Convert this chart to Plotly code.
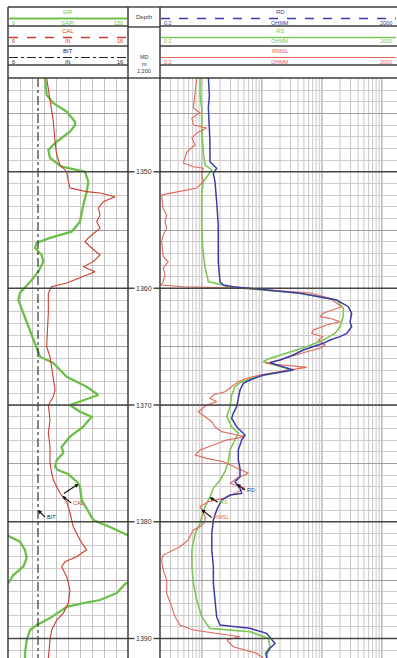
import numpy as np
import plotly.graph_objects as go

# ---------------------------------------------------------------------------
# Log data: (measured depth [m], value) pairs
# ---------------------------------------------------------------------------
GR_LOG = [  # gamma ray, GAPI
    (1341.97, 46.3), (1343.43, 48.4), (1344.11, 56.3), (1344.86, 73.4), (1345.71, 83.8),
    (1346.00, 83.8), (1346.57, 77.5), (1347.43, 60.9), (1348.14, 50.4), (1348.83, 52.5),
    (1349.57, 67.1), (1350.00, 96.3), (1350.86, 100.4), (1351.71, 98.4), (1352.85, 94.1),
    (1354.29, 90.0), (1355.14, 79.6), (1355.68, 52.5), (1356.11, 35.9), (1356.54, 33.8),
    (1357.14, 42.1), (1357.71, 44.1), (1358.57, 37.9), (1359.28, 29.6), (1360.40, 15.0),
    (1361.00, 12.9), (1362.11, 19.1), (1363.57, 27.5), (1365.00, 35.9), (1365.86, 40.0),
    (1366.40, 56.6), (1367.57, 73.4), (1368.43, 98.4), (1369.14, 112.9), (1370.00, 77.5),
    (1370.57, 90.0), (1371.00, 104.6), (1371.86, 94.1), (1372.71, 77.5), (1373.57, 67.1),
    (1374.11, 69.1), (1374.71, 60.9), (1375.28, 58.8), (1375.57, 62.5), (1375.91, 75.0),
    (1376.68, 87.5), (1377.03, 90.0), (1378.14, 92.1), (1379.85, 106.6), (1380.45, 127.5),
    (1381.14, 149.0), (1381.71, 165.0), (1382.43, 171.3), (1383.11, 173.4), (1383.86, 169.1),
    (1384.57, 156.6), (1385.20, 151.0), (1385.30, 147.0), (1386.11, 135.9), (1386.71, 115.0),
    (1386.97, 94.1), (1387.29, 73.4), (1388.26, 52.5), (1388.85, 35.9), (1389.28, 27.5),
    (1390.14, 23.4), (1391.25, 21.3), (1391.70, 21.3),
]

CAL_LOG = [  # caliper, inches
    (1341.97, 9.22), (1342.83, 9.36), (1344.00, 9.50), (1345.71, 9.78), (1347.43, 9.92),
    (1348.57, 10.06), (1349.43, 10.33), (1350.00, 10.89), (1350.86, 11.03), (1351.40, 11.17),
    (1351.71, 12.56), (1351.83, 13.67), (1352.14, 14.92), (1352.57, 13.94), (1353.11, 13.53),
    (1353.71, 13.67), (1354.29, 13.39), (1354.83, 13.67), (1355.68, 12.69), (1356.00, 12.42),
    (1356.54, 12.97), (1357.14, 13.67), (1357.71, 13.11), (1358.14, 12.28), (1358.57, 13.25),
    (1359.28, 11.44), (1359.54, 10.89), (1359.86, 9.64), (1360.40, 9.36), (1362.11, 9.36),
    (1365.00, 9.22), (1365.86, 9.50), (1366.71, 9.64), (1367.57, 9.78), (1368.71, 9.92),
    (1369.28, 9.78), (1370.00, 9.36), (1371.28, 9.50), (1372.40, 9.36), (1373.57, 9.50),
    (1374.97, 9.50), (1375.83, 9.64), (1376.43, 9.78), (1377.54, 10.33), (1378.29, 10.89),
    (1379.25, 11.17), (1380.43, 11.44), (1381.57, 12.00), (1382.43, 12.56), (1382.68, 12.14),
    (1383.00, 11.72), (1383.43, 10.75), (1383.86, 10.47), (1384.71, 10.89), (1385.85, 11.17),
    (1386.97, 11.03), (1387.83, 10.61), (1388.43, 10.06), (1389.28, 9.64), (1390.14, 9.50),
    (1391.70, 9.36),
]

BIT_SIZE = 8.5  # inches

RD_LOG = [  # deep resistivity, ohm.m
    (1341.97, 1.28), (1343.43, 1.33), (1344.54, 1.28), (1346.00, 1.33), (1347.43, 1.36),
    (1349.14, 1.36), (1349.71, 1.76), (1350.14, 1.55), (1350.86, 1.65), (1352.57, 1.76),
    (1354.57, 1.87), (1356.00, 1.87), (1357.71, 1.87), (1359.43, 2.00), (1359.71, 2.27),
    (1359.86, 3.33), (1360.42, 43.1), (1361.00, 176), (1361.57, 275), (1362.14, 313),
    (1362.86, 294), (1363.29, 313), (1363.86, 259), (1364.14, 200), (1364.43, 136),
    (1364.71, 105), (1365.00, 71.8), (1365.28, 48.9), (1365.71, 33.3), (1366.14, 20.0),
    (1366.37, 13.6), (1366.71, 22.7), (1367.00, 33.3), (1367.14, 22.7), (1367.43, 10.5),
    (1367.85, 6.32), (1368.14, 4.89), (1368.71, 4.31), (1369.57, 4.04), (1370.14, 3.79),
    (1370.71, 3.33), (1371.14, 3.13), (1371.86, 3.79), (1372.28, 4.60), (1372.57, 5.22),
    (1373.00, 4.60), (1373.85, 4.04), (1374.71, 4.04), (1375.42, 4.31), (1376.14, 4.31),
    (1376.57, 3.56), (1377.14, 4.31), (1377.57, 4.60), (1377.71, 2.94), (1378.14, 2.13),
    (1379.00, 1.76), (1379.85, 1.55), (1381.00, 1.46), (1382.43, 1.46), (1383.86, 1.55),
    (1385.28, 1.55), (1386.71, 1.65), (1388.14, 1.76), (1388.85, 2.00), (1389.14, 6.32),
    (1389.57, 12.0), (1390.43, 16.5), (1390.85, 13.6), (1391.28, 12.0), (1391.70, 12.0),
]

RS_LOG = [  # shallow resistivity, ohm.m
    (1341.97, 0.93), (1343.43, 0.93), (1344.54, 0.99), (1346.26, 0.99), (1348.29, 1.05),
    (1349.43, 1.13), (1349.85, 1.46), (1350.28, 1.28), (1350.86, 1.05), (1352.00, 0.99),
    (1354.57, 0.99), (1356.54, 1.03), (1358.25, 1.13), (1359.43, 1.28), (1359.71, 2.27),
    (1359.86, 2.59), (1360.42, 43.1), (1361.00, 176), (1361.71, 227), (1362.43, 227),
    (1363.29, 200), (1363.86, 165), (1364.43, 105), (1365.00, 55.7), (1365.57, 25.9),
    (1366.00, 13.6), (1366.28, 10.5), (1366.57, 16.5), (1366.94, 29.4), (1367.23, 17.6),
    (1367.57, 8.18), (1368.00, 4.60), (1368.43, 3.56), (1369.14, 3.13), (1370.14, 2.94),
    (1371.00, 2.59), (1371.86, 3.13), (1372.42, 4.04), (1373.00, 3.56), (1373.85, 2.94),
    (1374.86, 2.75), (1375.71, 2.42), (1376.43, 2.00), (1377.14, 1.55), (1377.86, 1.36),
    (1378.71, 1.13), (1379.28, 1.05), (1379.57, 0.99), (1380.14, 0.93), (1381.00, 0.77),
    (1382.43, 0.68), (1383.86, 0.68), (1385.28, 0.72), (1386.71, 0.82), (1388.14, 0.99),
    (1389.14, 1.36), (1389.43, 6.32), (1390.00, 12.8), (1390.71, 13.6), (1391.28, 11.3),
    (1391.70, 12.0),
]

RMSL_LOG = [  # micro-spherically focused resistivity, ohm.m
    (1341.97, 0.82), (1343.43, 0.77), (1344.54, 0.72), (1344.97, 0.93), (1345.40, 0.68),
    (1346.00, 0.72), (1346.26, 1.20), (1346.68, 0.82), (1347.11, 0.68), (1347.71, 0.77),
    (1348.29, 0.56), (1349.25, 0.49), (1349.57, 0.72), (1349.71, 1.05), (1350.28, 0.99),
    (1350.86, 1.05), (1351.40, 0.82), (1351.86, 0.29), (1352.00, 0.213), (1353.11, 0.224),
    (1353.71, 0.259), (1354.29, 0.242), (1354.83, 0.259), (1355.43, 0.226), (1356.00, 0.213),
    (1357.29, 0.226), (1357.71, 0.275), (1358.25, 0.226), (1358.85, 0.242), (1359.43, 0.226),
    (1359.71, 0.21), (1359.86, 0.49), (1360.00, 6.32), (1360.40, 63.2), (1360.85, 136),
    (1361.28, 176), (1361.57, 213), (1362.14, 105), (1362.43, 92.8), (1362.57, 136),
    (1362.86, 200), (1363.14, 120), (1363.57, 71.8), (1363.86, 67.5), (1364.14, 105),
    (1364.43, 86.9), (1364.85, 112.5), (1365.14, 92.8), (1365.43, 55.7), (1365.86, 29.4),
    (1366.14, 20.0), (1366.42, 11.3), (1366.57, 22.7), (1366.77, 55.7), (1366.94, 33.3),
    (1367.14, 20.0), (1367.43, 9.28), (1367.71, 5.57), (1368.00, 4.04), (1368.43, 3.13),
    (1368.86, 2.42), (1369.14, 1.55), (1369.42, 1.36), (1369.71, 1.76), (1370.00, 1.20),
    (1370.57, 0.87), (1371.00, 1.13), (1371.43, 1.46), (1371.86, 1.65), (1372.28, 2.13),
    (1372.57, 3.79), (1372.71, 5.22), (1373.00, 2.59), (1373.43, 1.55), (1373.85, 0.93),
    (1374.28, 0.77), (1374.57, 1.20), (1374.86, 2.27), (1375.28, 3.33), (1375.57, 4.31),
    (1375.85, 5.93), (1376.28, 3.79), (1376.71, 2.94), (1377.14, 5.22), (1377.57, 3.56),
    (1378.00, 2.27), (1378.29, 1.28), (1378.71, 0.93), (1379.57, 1.13), (1380.00, 1.13),
    (1380.43, 0.93), (1380.71, 0.72), (1381.57, 0.59), (1382.14, 0.43), (1382.86, 0.226),
    (1383.28, 0.213), (1384.14, 0.226), (1385.00, 0.259), (1386.14, 0.259), (1387.29, 0.313),
    (1388.14, 0.356), (1388.85, 0.43), (1389.28, 0.72), (1389.86, 4.31), (1390.14, 2.59),
    (1390.71, 3.33), (1391.28, 8.18), (1391.70, 10.5),
]

DEPTH_MARKS = [1350, 1360, 1370, 1380, 1390]

# ---------------------------------------------------------------------------
# Page geometry (pixels)
# ---------------------------------------------------------------------------
W, H = 397, 658
LX0, LX1 = 8, 128          # left track (GR / CAL / BIT)
RX0 = 160                  # resistivity track starts here, runs past right edge
PLOT_TOP = 78              # top of the log body
HDR_TOP = 7
DECADE_PX = 60             # log-scale decade width
DEPTH_TOP, DEPTH_BOT = 1341.97, 1391.68

GR_MIN, GR_MAX = 0, 150
CAL_MIN, CAL_MAX = 6, 16
RES_MIN = 0.2

C_GR, C_CAL, C_BIT = "#6cbf48", "#cf3b2c", "#222222"
C_RD, C_RS, C_RMSL = "#3a3fa6", "#7cc755", "#e2685b"
C_BORDER = "#3d3d3d"
FONT = "Liberation Sans, Arial, sans-serif"


def fx(p):
    return p / W


def fy(p):
    return 1 - p / H


def unzip(pairs):
    d, v = zip(*pairs)
    return np.array(d), np.array(v)


gr_d, gr_v = unzip(GR_LOG)
cal_d, cal_v = unzip(CAL_LOG)
rd_d, rd_v = unzip(RD_LOG)
rs_d, rs_v = unzip(RS_LOG)
rm_d, rm_v = unzip(RMSL_LOG)

fig = go.Figure()

# GR on main scale, plus the wrapped backup scale (150-300) for readings off the track
fig.add_trace(go.Scatter(x=gr_v, y=gr_d, xaxis="x", yaxis="y", mode="lines",
                         line=dict(color=C_GR, width=2.3), name="GR"))
fig.add_trace(go.Scatter(x=gr_v - (GR_MAX - GR_MIN), y=gr_d, xaxis="x", yaxis="y",
                         mode="lines", line=dict(color=C_GR, width=2.3), name="GR backup"))
# CAL and BIT share an overlaid inch scale
fig.add_trace(go.Scatter(x=cal_v, y=cal_d, xaxis="x3", yaxis="y", mode="lines",
                         line=dict(color=C_CAL, width=1.1), name="CAL"))
fig.add_trace(go.Scatter(x=[BIT_SIZE, BIT_SIZE], y=[DEPTH_TOP, DEPTH_BOT], xaxis="x3",
                         yaxis="y", mode="lines",
                         line=dict(color=C_BIT, width=1.1, dash="dashdot"), name="BIT"))
# Resistivities on the log track
fig.add_trace(go.Scatter(x=rs_v, y=rs_d, xaxis="x2", yaxis="y2", mode="lines",
                         line=dict(color=C_RS, width=1.6), name="RS"))
fig.add_trace(go.Scatter(x=rm_v, y=rm_d, xaxis="x2", yaxis="y2", mode="lines",
                         line=dict(color=C_RMSL, width=1.1), name="RMSL"))
fig.add_trace(go.Scatter(x=rd_v, y=rd_d, xaxis="x2", yaxis="y2", mode="lines",
                         line=dict(color=C_RD, width=1.5), name="RD"))

shapes, annotations = [], []


def line(x0, y0, x1, y1, color=C_BORDER, width=1.4, dash="solid", xref="paper",
         yref="paper", layer="above"):
    shapes.append(dict(type="line", xref=xref, yref=yref, x0=x0, y0=y0, x1=x1, y1=y1,
                       layer=layer, line=dict(color=color, width=width, dash=dash)))


def label(x, y, s, color="#333333", size=6, xanchor="center"):
    annotations.append(dict(xref="paper", yref="paper", x=fx(x), y=fy(y), text=s,
                            showarrow=False, xanchor=xanchor, yanchor="middle",
                            font=dict(family=FONT, size=size, color=color)))


# Logarithmic grid of the resistivity track
log_lo = np.log10(RES_MIN)
log_hi = log_lo + (W - RX0) / DECADE_PX
for dec in range(-1, 4):
    for k in range(1, 10):
        v = k * 10.0 ** dec
        if log_lo < np.log10(v) < log_hi:
            major = k == 1
            line(v, 0, v, fy(PLOT_TOP), xref="x2", yref="paper", layer="below",
                 color="#969696" if major else "#c8c8c8", width=1)

# Heavy 10 m depth lines running across all tracks
for d in DEPTH_MARKS:
    line(fx(LX0), d, 1, d, xref="paper", yref="y", color="#474747", width=1.5)
    annotations.append(dict(xref="paper", yref="y", x=fx((LX1 + RX0) / 2), y=d,
                            text=str(d), showarrow=False, bgcolor="white", borderpad=1,
                            font=dict(family=FONT, size=7, color="#333333")))

# Track borders
for xb in (LX0, LX1, RX0):
    line(fx(xb), fy(HDR_TOP), fx(xb), 0, width=1.5)

# Header boxes
rows = [HDR_TOP, 26, 46, 65, PLOT_TOP]
for yb in rows:
    line(fx(LX0), fy(yb), fx(LX1), fy(yb))
    line(fx(RX0), fy(yb), 1, fy(yb))
for yb in (HDR_TOP, 27, PLOT_TOP):
    line(fx(LX1), fy(yb), fx(RX0), fy(yb))

left_hdr = [("GR", "GAPI", str(GR_MIN), str(GR_MAX), C_GR, "solid", 2.2),
            ("CAL", "IN", str(CAL_MIN), str(CAL_MAX), C_CAL, "dash", 1.6),
            ("BIT", "IN", str(CAL_MIN), str(CAL_MAX), C_BIT, "dashdot", 1.2)]
right_hdr = [("RD", "OHMM", "0.2", "2000", C_RD, "dash", 1.3),
             ("RS", "OHMM", "0.2", "2000", C_RS, "solid", 1.6),
             ("RMSL", "OHMM", "0.2", "2000", C_RMSL, "solid", 1.2)]


def header_rows(specs, x0, x1, xc):
    for i, (name, unit, lo, hi, col, dash, wd) in enumerate(specs):
        top = rows[i]
        ly = top + 11.5
        line(fx(x0 + 1), fy(ly), fx(x1 - 1), fy(ly), color=col, width=wd, dash=dash)
        label(xc, top + 5, name, col, 6)
        label(xc, top + 15.5, unit, col, 5.5)
        label(x0 + 2, top + 15.5, lo, col, 5.5, "left")
        label(x1 - 3, top + 15.5, hi, col, 5.5, "right")


header_rows(left_hdr, LX0, LX1, (LX0 + LX1) / 2)
header_rows(right_hdr, RX0, min(RX0 + 4 * DECADE_PX, W), RX0 + 2 * DECADE_PX)

label((LX1 + RX0) / 2, 17, "Depth", "#333333", 6)
label((LX1 + RX0) / 2, 57, "MD", "#333333", 5.5)
label((LX1 + RX0) / 2, 64, "m", "#333333", 5.5)
label((LX1 + RX0) / 2, 71, "1:200", "#333333", 5.5)


# Curve name tags with leader arrows
def tag(text, xref, yref, x, depth, ax, ay, color, size=5.5):
    annotations.append(dict(xref=xref, yref=yref, x=x, y=depth, text=text,
                            showarrow=True, ax=ax, ay=ay, arrowhead=2, arrowsize=0.7,
                            arrowwidth=1.1, arrowcolor="#111111", xanchor="left",
                            yanchor="middle", font=dict(family=FONT, size=size, color=color)))


d_gr = 1376.77
tag("", "x", "y", float(np.interp(d_gr, gr_d, gr_v)), d_gr, -17, 11, C_GR)
d_cal = 1377.8
tag("CAL", "x3", "y", float(np.interp(d_cal, cal_d, cal_v)), d_cal, 9, 7, C_CAL)
tag("BIT", "x3", "y", BIT_SIZE, 1379.0, 7, 7, C_BIT)
d_rd = 1376.77
tag("RD", "x2", "y2", float(np.log10(np.interp(d_rd, rd_d, rd_v))), d_rd, 8, 6, C_RD)
d_rs = 1377.9
tag("RS", "x2", "y2", float(np.log10(np.interp(d_rs, rs_d, rs_v))), d_rs, 8, 5, C_RS)
d_rm = 1378.95
tag("RMSL", "x2", "y2", float(np.log10(np.interp(d_rm, rm_d, rm_v))), d_rm, 10, 8, C_RMSL)

y_axis = dict(range=[DEPTH_BOT, DEPTH_TOP], domain=[0, fy(PLOT_TOP)], showticklabels=False,
              ticks="", zeroline=False, showline=False, showgrid=True, tick0=1340, dtick=5,
              gridcolor="#a89b9b", gridwidth=1,
              minor=dict(tick0=1340, dtick=1, showgrid=True, gridcolor="#d3c9c9",
                         gridwidth=1))

fig.update_layout(
    width=W, height=H, autosize=False,
    margin=dict(l=0, r=0, t=0, b=0, pad=0),
    paper_bgcolor="white", plot_bgcolor="white",
    showlegend=False,
    xaxis=dict(domain=[fx(LX0), fx(LX1)], range=[GR_MIN, GR_MAX], anchor="y",
               showgrid=True, tick0=0, dtick=15, gridcolor="#c2c2c2", gridwidth=1,
               showticklabels=False, ticks="", zeroline=False, showline=False),
    xaxis3=dict(overlaying="x", range=[CAL_MIN, CAL_MAX], anchor="y", visible=False),
    xaxis2=dict(domain=[fx(RX0), 1], type="log", range=[log_lo, log_hi], anchor="y2",
                showgrid=False, showticklabels=False, ticks="", zeroline=False,
                showline=False),
    yaxis=dict(anchor="x", **y_axis),
    yaxis2=dict(anchor="x2", **y_axis),
    shapes=shapes,
    annotations=annotations,
)

fig.write_html("out.html")
